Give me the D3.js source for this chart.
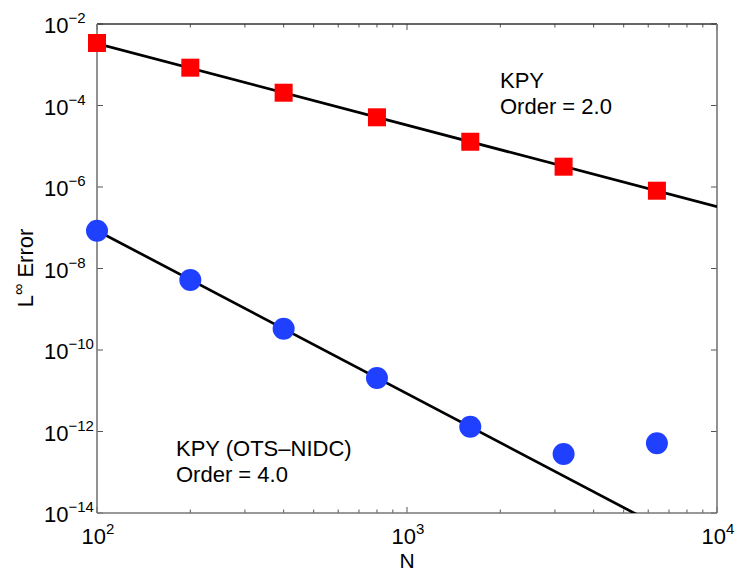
<!DOCTYPE html>
<html>
<head>
<meta charset="utf-8">
<script src="https://cdn.jsdelivr.net/npm/d3@7"></script>
<style>
  body { margin: 0; background: #fff; }
  svg { display: block; font-family: "Liberation Sans", Arial, sans-serif; }
</style>
</head>
<body>
<div class="chart"></div>
<script>
// grid sizes N and the measured L-infinity errors
const sizes = [100, 200, 400, 800, 1600, 3200, 6400];
const errKPY = [3.42e-3, 8.47e-4, 2.06e-4, 5.13e-5, 1.29e-5, 3.15e-6, 8.11e-7];
const errOTS = [8.47e-8, 5.22e-9, 3.33e-10, 2.06e-11, 1.31e-12, 2.8e-13, 5.13e-13];

// fitted reference lines (end points)
const fitN = [100, 10000];
const fitKPY = [3.29e-3, 3.29e-7];
const fitOTS = [8.5e-8, 8.5e-16];

const xTickExp = [2, 3, 4];
const yTickExp = [-2, -4, -6, -8, -10, -12, -14];

const W = 739, H = 577;
const margin = { top: 24, right: 22, bottom: 64, left: 97 },
	width = W - margin.left - margin.right,
	height = H - margin.top - margin.bottom;

const x = d3.scaleLog().domain([1e2, 1e4]).range([0, width]);
const y = d3.scaleLog().domain([1e-14, 1e-2]).range([height, 0]);

const svg = d3.select(".chart")
	.append("svg")
	.attr("width", W)
	.attr("height", H);

const g = svg.append("g")
	.attr("transform", "translate(" + margin.left + "," + margin.top + ")");

g.append("clipPath").attr("id", "plot-clip")
	.append("rect").attr("width", width).attr("height", height);

// x ticks: majors at decades, minors at 2..9
const xMinor = x.ticks().filter((d) => Math.abs(Math.log10(d) % 1) > 1e-6);
const xMajor = xTickExp.map((e) => Math.pow(10, e));

const tickColor = "#555";

function xTicks(yPos, dir) {
	g.append("g").selectAll("line")
		.data(xMinor)
		.enter().append("line")
		.attr("x1", (d) => x(d)).attr("x2", (d) => x(d))
		.attr("y1", yPos).attr("y2", yPos + dir * 3.5)
		.attr("stroke", tickColor).attr("stroke-width", 1);
	g.append("g").selectAll("line")
		.data(xMajor)
		.enter().append("line")
		.attr("x1", (d) => x(d)).attr("x2", (d) => x(d))
		.attr("y1", yPos).attr("y2", yPos + dir * 6)
		.attr("stroke", tickColor).attr("stroke-width", 1);
}
xTicks(height, -1);
xTicks(0, 1);

function yTicks(xPos, dir) {
	g.append("g").selectAll("line")
		.data(yTickExp)
		.enter().append("line")
		.attr("x1", xPos).attr("x2", xPos + dir * 6)
		.attr("y1", (d) => y(Math.pow(10, d))).attr("y2", (d) => y(Math.pow(10, d)))
		.attr("stroke", tickColor).attr("stroke-width", 1);
}
yTicks(0, 1);
yTicks(width, -1);

// box
g.append("line").attr("x1", 0).attr("x2", width).attr("y1", 0).attr("y2", 0)
	.attr("stroke", "#333").attr("stroke-width", 1.3);
g.append("line").attr("x1", 0).attr("x2", width).attr("y1", height).attr("y2", height)
	.attr("stroke", "#777").attr("stroke-width", 1.6);
g.append("line").attr("x1", 0).attr("x2", 0).attr("y1", 0).attr("y2", height)
	.attr("stroke", "#777").attr("stroke-width", 1.6);
g.append("line").attr("x1", width).attr("x2", width).attr("y1", 0).attr("y2", height)
	.attr("stroke", "#777").attr("stroke-width", 1.6);

// tick labels with superscript exponents
g.append("g").selectAll("text")
	.data(xTickExp)
	.enter().append("text")
	.attr("x", (d) => x(Math.pow(10, d)) + 1)
	.attr("y", height + 31)
	.attr("text-anchor", "middle")
	.style("font-size", "22px")
	.call((t) => {
		t.append("tspan").text("10");
		t.append("tspan").attr("dy", -10).style("font-size", "15px").text((d) => d);
	});

g.append("g").selectAll("text")
	.data(yTickExp)
	.enter().append("text")
	.attr("x", -53)
	.attr("y", (d) => y(Math.pow(10, d)) + 9)
	.attr("text-anchor", "start")
	.style("font-size", "22px")
	.call((t) => {
		t.append("tspan").text("10");
		t.append("tspan").attr("dy", -10).style("font-size", "15px").text((d) => "\u2212" + Math.abs(d));
	});

// axis titles
svg.append("text")
	.attr("x", margin.left + x(1000))
	.attr("y", 568)
	.attr("text-anchor", "middle")
	.style("font-size", "21px")
	.text("N");

svg.append("text")
	.attr("transform", "translate(33,268) rotate(-90)")
	.attr("text-anchor", "middle")
	.style("font-size", "22px")
	.call((t) => {
		t.append("tspan").text("L");
		t.append("tspan").attr("dy", -9).style("font-size", "16px").text("\u221e");
		t.append("tspan").attr("dy", 9).text(" Error");
	});

// fit lines
const line = d3.line().x((d) => x(d[0])).y((d) => y(d[1]));
const fits = g.append("g").attr("clip-path", "url(#plot-clip)");
fits.append("path")
	.datum(d3.zip(fitN, fitKPY))
	.attr("d", line)
	.attr("fill", "none").attr("stroke", "#000").attr("stroke-width", 2.7);
fits.append("path")
	.datum(d3.zip(fitN, fitOTS))
	.attr("d", line)
	.attr("fill", "none").attr("stroke", "#000").attr("stroke-width", 2.7);

// markers
const sq = 18;
g.append("g").selectAll("rect")
	.data(d3.zip(sizes, errKPY))
	.enter().append("rect")
	.attr("x", (d) => x(d[0]) - sq / 2)
	.attr("y", (d) => y(d[1]) - sq / 2)
	.attr("width", sq).attr("height", sq)
	.attr("fill", "#ff0000");

g.append("g").selectAll("circle")
	.data(d3.zip(sizes, errOTS))
	.enter().append("circle")
	.attr("cx", (d) => x(d[0]))
	.attr("cy", (d) => y(d[1]))
	.attr("r", 11)
	.attr("fill", "#2040ff");

// annotations
const note = (lines, px, py) => {
	const t = svg.append("text").style("font-size", "22px");
	lines.forEach((s, i) => {
		t.append("tspan").attr("x", px).attr("y", py + i * 26).text(s);
	});
};
note(["KPY", "Order = 2.0"], 500, 88);
note(["KPY (OTS\u2013NIDC)", "Order = 4.0"], 176, 456);
</script>
</body>
</html>
